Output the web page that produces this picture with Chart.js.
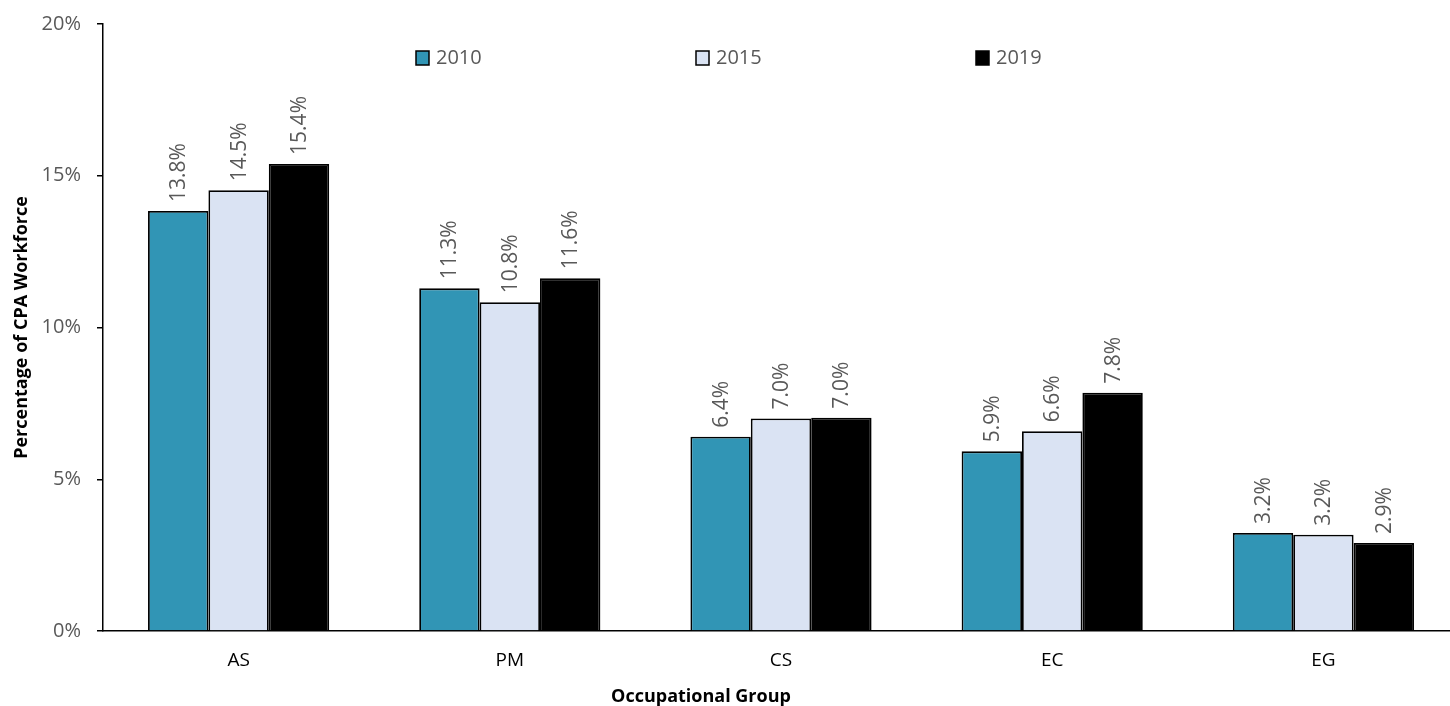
<!DOCTYPE html>
<html>
<head>
<meta charset="utf-8">
<script src="https://cdn.jsdelivr.net/npm/chart.js@4"></script>
<style>
  body { margin: 0; background: #fff; overflow: hidden; }
  #wrap { width: 1459px; height: 706px; }
</style>
</head>
<body>
<div id="wrap"><canvas id="barChart"></canvas></div>
<script>
// chart data
const groups = ["AS", "PM", "CS", "EC", "EG"];
const years = ["2010", "2015", "2019"];
const share2010 = [13.84, 11.29, 6.4, 5.92, 3.23];
const share2015 = [14.52, 10.83, 7.0, 6.58, 3.17];
const share2019 = [15.39, 11.62, 7.03, 7.85, 2.9];
const yTicks = [0, 5, 10, 15, 20];

const colors = ["#3195B5", "#DAE3F3", "#000000"];
const grey = "#595959";
const fontFamily = "'Open Sans', sans-serif";

// value labels, rotated above each bar
const valueLabels = {
  id: "valueLabels",
  afterDatasetsDraw(chart) {
    const ctx = chart.ctx;
    ctx.save();
    ctx.font = `21px ${fontFamily}`;
    ctx.fillStyle = grey;
    ctx.textAlign = "left";
    ctx.textBaseline = "middle";
    chart.data.datasets.forEach((ds, i) => {
      chart.getDatasetMeta(i).data.forEach((bar, j) => {
        ctx.save();
        ctx.translate(bar.x, bar.y - 9);
        ctx.rotate(-Math.PI / 2);
        ctx.fillText(ds.data[j].toFixed(1) + "%", 0, 1);
        ctx.restore();
      });
    });
    ctx.restore();
  },
};

// legend spread across the top of the plot
const spreadLegend = {
  id: "spreadLegend",
  afterDraw(chart) {
    const ctx = chart.ctx;
    const startX = chart.chartArea.left + 313;
    const step = 280;
    const y = 58;
    ctx.save();
    ctx.font = `20px ${fontFamily}`;
    ctx.textBaseline = "middle";
    ctx.textAlign = "left";
    chart.data.datasets.forEach((ds, i) => {
      const x = startX + i * step;
      ctx.fillStyle = ds.backgroundColor;
      ctx.fillRect(x, y - 7, 13, 14);
      ctx.lineWidth = 1.5;
      ctx.strokeStyle = "#000";
      ctx.strokeRect(x, y - 7, 13, 14);
      ctx.fillStyle = grey;
      ctx.fillText(ds.label, x + 20, y);
    });

    // x axis title
    ctx.font = `bold 18px ${fontFamily}`;
    ctx.fillStyle = "#000";
    ctx.textAlign = "center";
    ctx.fillText("Occupational Group", 701, 697);
    ctx.restore();
  },
};

new Chart(document.getElementById("barChart"), {
  type: "bar",
  data: {
    labels: groups,
    datasets: [
      { label: years[0], data: share2010, backgroundColor: colors[0] },
      { label: years[1], data: share2015, backgroundColor: colors[1] },
      { label: years[2], data: share2019, backgroundColor: colors[2] },
    ],
  },
  options: {
    responsive: true,
    maintainAspectRatio: false,
    animation: false,
    layout: { padding: { top: 24, right: 0, left: 0, bottom: 0 } },
    datasets: {
      bar: {
        borderColor: "#000",
        borderWidth: 1.8,
        borderSkipped: "bottom",
        barPercentage: 1,
        categoryPercentage: 0.668,
      },
    },
    plugins: {
      legend: { display: false },
      tooltip: { enabled: false },
    },
    scales: {
      x: {
        grid: { display: false, drawTicks: false },
        border: { color: "#000", width: 1.5 },
        ticks: {
          color: "#000",
          padding: 18,
          font: { family: fontFamily, size: 19 },
        },
        afterFit(scale) {
          scale.height = 75;
          scale.paddingLeft = 0;
          scale.paddingRight = 0;
        },
      },
      y: {
        min: 0,
        max: 20,
        afterBuildTicks(scale) {
          scale.ticks = yTicks.map((v) => ({ value: v }));
        },
        grid: {
          drawOnChartArea: false,
          drawTicks: true,
          tickLength: 6,
          color: "#000",
          lineWidth: 1.5,
        },
        border: { color: "#000", width: 1.5 },
        ticks: {
          color: grey,
          padding: 16,
          font: { family: fontFamily, size: 20 },
          callback: (v) => v + "%",
        },
        title: {
          display: true,
          text: "Percentage of CPA Workforce",
          color: "#000",
          font: { family: fontFamily, size: 18, weight: "bold" },
          padding: { top: 11, bottom: 0 },
        },
        afterFit(scale) {
          scale.width = 103;
          scale.paddingTop = 0;
          scale.paddingBottom = 0;
        },
      },
    },
  },
  plugins: [valueLabels, spreadLegend],
});
</script>
</body>
</html>
